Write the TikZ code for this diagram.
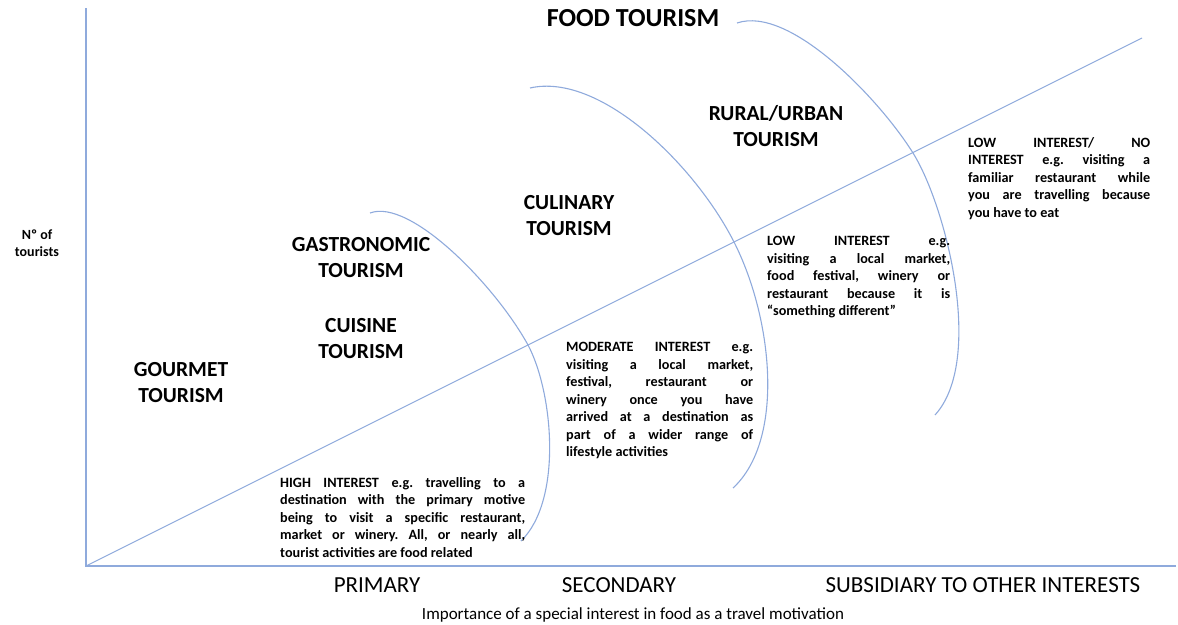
\documentclass[tikz,border=0pt]{standalone}
\usepackage{fontspec}
\setmainfont{Carlito}
\definecolor{axisblue}{RGB}{143,170,220}
\hbadness=10000
\frenchspacing
\begin{document}
\begin{tikzpicture}[x=1pt,y=-1pt,
  line/.style={draw=axisblue, line width=1.1pt},
  head/.style={font=\fontsize{21.5}{26}\selectfont\bfseries, align=center, inner sep=0},
  cat/.style={font=\fontsize{23}{27}\selectfont, inner sep=0},
  desc/.style={font=\fontsize{14.2}{17.5}\selectfont\bfseries\frenchspacing, align=justify, inner sep=0, anchor=north west},
  ylab/.style={font=\fontsize{14}{17}\selectfont\bfseries, align=center, inner sep=0}]
\useasboundingbox (0,0) rectangle (1178,624);
% axes
\coordinate (O) at (86,566);
\coordinate (ytop) at (86,8);
\coordinate (xend) at (1176,566);
\coordinate (dend) at (1142,38);
\draw[line] (ytop) -- (O) -- (xend);
\draw[line] (O) -- (dend);
% arcs
\coordinate (a1s) at (370,213);
\coordinate (a1m) at (528,345);
\coordinate (a1e) at (521,541);
\coordinate (a2s) at (530,88);
\coordinate (a2m) at (734,242);
\coordinate (a2e) at (733,488);
\coordinate (a3s) at (737,23);
\coordinate (a3m) at (913,153);
\coordinate (a3e) at (935,415);
\draw[line] (a1s) .. controls (410,198) and (495,285) .. (a1m) .. controls (553,392) and (563,500) .. (a1e);
\draw[line] (a2s) .. controls (600,72) and (695,165) .. (a2m) .. controls (773,319) and (785,440) .. (a2e);
\draw[line] (a3s) .. controls (790,5) and (880,100) .. (a3m) .. controls (946,206) and (985,360) .. (a3e);
% headings
\node[head, font=\fontsize{26}{30}\selectfont\bfseries] (food) at (633,18) {FOOD TOURISM};
\node[head] (rural) at (776,126) {RURAL/URBAN\\TOURISM};
\node[head] (culinary) at (569,216) {CULINARY\\TOURISM};
\node[head] (gastro) at (361,258) {GASTRONOMIC\\TOURISM};
\node[head] (cuisine) at (361,339) {CUISINE\\TOURISM};
\node[head] (gourmet) at (181,383) {GOURMET\\TOURISM};
% y label
\node[ylab] (ylabel) at (37,243) {Nº of\\tourists};
% categories
\node[cat] (primary) at (377,585) {PRIMARY};
\node[cat] (secondary) at (619,585) {SECONDARY};
\node[cat] (subsidiary) at (983,585) {SUBSIDIARY TO OTHER INTERESTS};
\node[inner sep=0, font=\fontsize{17}{20}\selectfont] (xlabel) at (633,615) {Importance of a special interest in food as a travel motivation};
% descriptions
\node[desc, text width=245] (high) at (280,477) {HIGH INTEREST e.g. travelling to a\linebreak destination with the primary motive\linebreak being to visit a specific restaurant,\linebreak market or winery. All, or nearly all,\linebreak tourist activities are food related};
\node[desc, text width=187] (moderate) at (566,342) {MODERATE INTEREST e.g.\linebreak visiting a local market,\linebreak festival, restaurant or\linebreak winery once you have\linebreak arrived at a destination as\linebreak part of a wider range of\linebreak lifestyle activities};
\node[desc, text width=183] (low) at (767,236) {LOW INTEREST e.g.\linebreak visiting a local market,\linebreak food festival, winery or\linebreak restaurant because it is\linebreak “something different”};
\node[desc, text width=182] (lowno) at (968,137) {LOW INTEREST/ NO\linebreak INTEREST e.g. visiting a\linebreak familiar restaurant while\linebreak you are travelling because\linebreak you have to eat};
\end{tikzpicture}
\end{document}
